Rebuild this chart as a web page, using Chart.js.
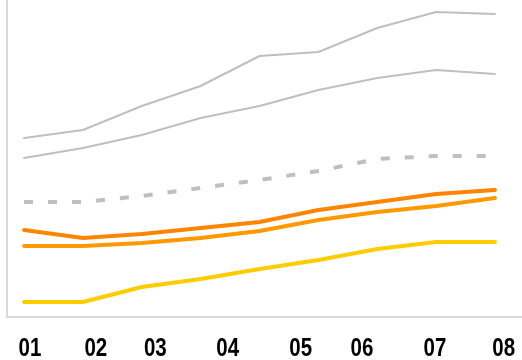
<!DOCTYPE html>
<html lang="en">
<head>
    <meta charset="UTF-8">
    <title>Trend lines 01-08</title>
    <script src="https://cdn.jsdelivr.net/npm/chart.js"></script>
    <style>
        body { margin: 0; background: #fff; }
        .wrap { width: 522px; height: 360px; }
    </style>
</head>
<body>
<div class="wrap">
    <canvas id="trendChart"></canvas>
</div>

<script>
    // x labels and where they sit along the point index axis
    const categories = ['01', '02', '03', '04', '05', '06', '07', '08'];
    const labelPos = [0.10, 1.22, 2.23, 3.46, 4.70, 5.74, 6.98, 8.15];

    // series values (9 points each)
    const grayTop    = [179, 187, 211, 231, 261, 265, 289, 305, 303];
    const graySecond = [159, 169, 182, 199, 211, 227, 239, 247, 243];
    const grayDashed = [115, 115, 121, 129, 137, 146, 158, 161, 161];
    const orangeDark = [87, 79, 83, 89, 95, 107, 115, 123, 127];
    const orangeLite = [71, 71, 74, 79, 86, 97, 105, 111, 119];
    const yellow     = [15, 15, 30, 38, 48, 57, 68, 75, 75];

    // turn plain arrays into {x, y} points for the linear x scale
    function pts(arr) {
        return arr.map((v, i) => ({ x: i, y: v }));
    }

    function line(data, color, width, dash) {
        return {
            data: pts(data),
            borderColor: color,
            borderWidth: width,
            borderDash: dash || [],
            borderCapStyle: dash ? 'butt' : 'round',
            borderJoinStyle: 'round',
            pointRadius: 0,
            tension: 0,
            fill: false
        };
    }

    // narrow bold labels under the axis (squeezed Liberation Sans, like Arial Narrow)
    const narrowLabels = {
        id: 'narrowLabels',
        afterDraw(chart) {
            const c = chart.ctx;
            const xs = chart.scales.x;
            c.save();
            c.fillStyle = '#000';
            c.font = "bold 25px 'Liberation Sans', Arial, sans-serif";
            c.textAlign = 'center';
            c.textBaseline = 'alphabetic';
            labelPos.forEach((v, i) => {
                const px = xs.getPixelForValue(v);
                c.save();
                c.translate(px, 356);
                c.scale(0.82, 1);
                c.fillText(categories[i], 0, 0);
                c.restore();
            });
            c.restore();
        }
    };

    const ctx = document.getElementById('trendChart').getContext('2d');
    new Chart(ctx, {
        type: 'line',
        data: {
            datasets: [
                line(grayTop, '#bfbfbf', 2),
                line(graySecond, '#bfbfbf', 2),
                line(grayDashed, '#bfbfbf', 4, [9, 15]),
                line(yellow, '#ffcc00', 4),
                line(orangeLite, '#ff9900', 4),
                line(orangeDark, '#ff8500', 4)
            ]
        },
        options: {
            responsive: true,
            maintainAspectRatio: false,
            animation: false,
            layout: { padding: { left: 7, top: 0, right: 0, bottom: 43 } },
            plugins: {
                legend: { display: false },
                tooltip: { enabled: false }
            },
            scales: {
                x: {
                    type: 'linear',
                    min: -0.29,
                    max: 8.46,
                    grid: { display: false, drawTicks: false },
                    border: { display: true, color: '#d9d9d9', width: 2 },
                    ticks: { display: false }
                },
                y: {
                    min: 0,
                    max: 317,
                    grid: { display: false, drawTicks: false },
                    border: { display: true, color: '#d9d9d9', width: 2 },
                    ticks: { display: false }
                }
            }
        },
        plugins: [narrowLabels]
    });
</script>
</body>
</html>
